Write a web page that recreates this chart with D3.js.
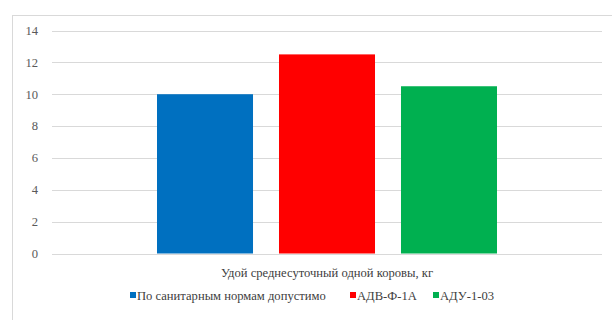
<!DOCTYPE html>
<html>
<head>
<meta charset="utf-8">
<script src="https://cdn.jsdelivr.net/npm/d3@7"></script>
<style>
  body { margin: 0; background: #fff; }
</style>
</head>
<body>
<svg id="chart" width="612" height="320"></svg>
<script>
"use strict";

const category = "Удой среднесуточный одной коровы, кг";
const series = ["По санитарным нормам допустимо", "АДВ-Ф-1А", "АДУ-1-03"];
const values = [10, 12.5, 10.5];
const colors = ["#0070c0", "#ff0000", "#00b050"];
const yTicks = [0, 2, 4, 6, 8, 10, 12, 14];

const font = "'Liberation Serif', 'DejaVu Serif', 'Times New Roman', serif";
const fontSize = 12.6;

const svg = d3.select("#chart");

// chart area border (cut off on right and bottom, as in the picture)
svg.append("rect")
    .attr("x", 12.5).attr("y", 15.5)
    .attr("width", 640).attr("height", 340)
    .attr("fill", "#fff")
    .attr("stroke", "#d9d9d9");

const plot = { left: 52, right: 602, top: 30.5, bottom: 253.5 };

const y = d3.scaleLinear().domain([0, 14]).range([plot.bottom, plot.top]);

const xOuter = d3.scaleBand().domain([category]).range([plot.left, plot.right]);
const groupCenter = xOuter(category) + xOuter.bandwidth() / 2;
const x = d3.scaleBand()
    .domain(series)
    .range([groupCenter - 170, groupCenter + 170])
    .paddingInner(0.213)
    .paddingOuter(0);

// grid lines
svg.append("g")
  .selectAll("line")
  .data(yTicks)
  .join("line")
    .attr("x1", plot.left).attr("x2", plot.right)
    .attr("y1", d => Math.round(y(d)) + 0.5)
    .attr("y2", d => Math.round(y(d)) + 0.5)
    .attr("stroke", "#d9d9d9")
    .attr("stroke-width", 1);

// y tick labels
svg.append("g")
  .selectAll("text")
  .data(yTicks)
  .join("text")
    .attr("x", 38)
    .attr("y", d => y(d))
    .attr("dy", "0.35em")
    .attr("text-anchor", "end")
    .attr("font-family", font)
    .attr("font-size", fontSize)
    .attr("fill", "#595959")
    .text(d => d);

// bars
svg.append("g")
  .selectAll("rect")
  .data(series)
  .join("rect")
    .attr("x", d => x(d))
    .attr("y", (d, i) => y(values[i]))
    .attr("width", x.bandwidth())
    .attr("height", (d, i) => y(0) - y(values[i]))
    .attr("fill", (d, i) => colors[i]);

// baseline redraw over bars
svg.append("line")
    .attr("x1", plot.left).attr("x2", plot.right)
    .attr("y1", Math.round(y(0)) + 0.5).attr("y2", Math.round(y(0)) + 0.5)
    .attr("stroke", "#d9d9d9");

// category label
svg.append("text")
    .attr("x", groupCenter)
    .attr("y", 277)
    .attr("text-anchor", "middle")
    .attr("font-family", font)
    .attr("font-size", fontSize)
    .attr("fill", "#404040")
    .text(category);

// legend
const legendX = [130, 350, 433];
const legend = svg.append("g")
  .selectAll("g")
  .data(series)
  .join("g")
    .attr("transform", (d, i) => `translate(${legendX[i]},296)`);

legend.append("rect")
    .attr("x", 0).attr("y", -4)
    .attr("width", 6).attr("height", 6)
    .attr("fill", (d, i) => colors[i]);

legend.append("text")
    .attr("x", 7)
    .attr("y", 0)
    .attr("dy", "0.35em")
    .attr("font-family", font)
    .attr("font-size", fontSize)
    .attr("fill", "#404040")
    .text(d => d);
</script>
</body>
</html>
